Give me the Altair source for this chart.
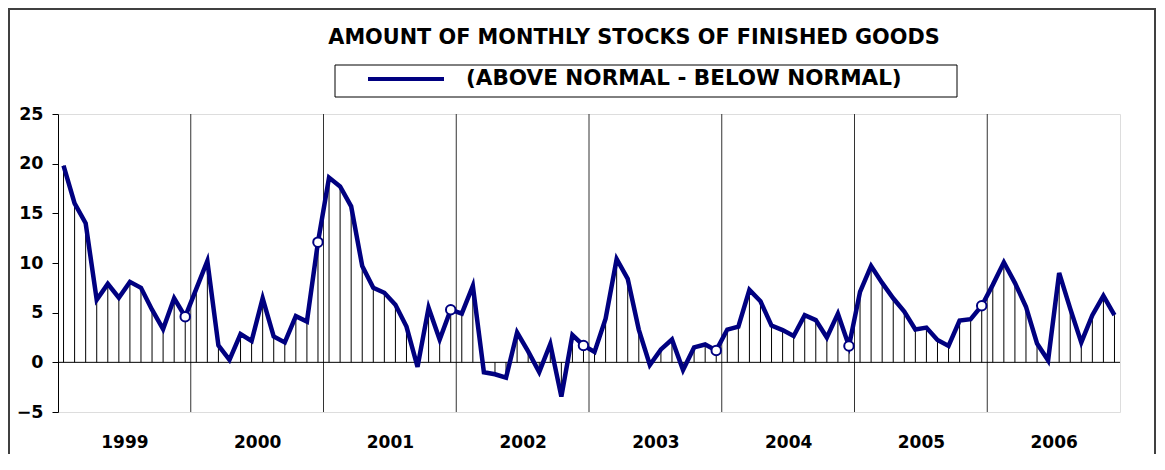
import altair as alt
import pandas as pd

years = ["1999", "2000", "2001", "2002", "2003", "2004", "2005", "2006"]
series_name = "(ABOVE NORMAL - BELOW NORMAL)"
title_text = "AMOUNT OF MONTHLY STOCKS OF FINISHED GOODS"

v1999 = [19.8, 16.0, 14.0, 6.3, 7.9, 6.5, 8.1, 7.5, 5.3, 3.35, 6.45, 4.6]
v2000 = [7.4, 10.2, 1.7, 0.25, 2.85, 2.15, 6.45, 2.6, 2.0, 4.65, 4.1, 12.1]
v2001 = [18.6, 17.7, 15.7, 9.7, 7.5, 7.0, 5.8, 3.6, -0.45, 5.5, 2.3, 5.3]
v2002 = [4.9, 7.7, -1.0, -1.2, -1.55, 3.0, 1.1, -0.98, 1.85, -3.45, 2.75, 1.7]
v2003 = [1.05, 4.4, 10.4, 8.4, 3.3, -0.27, 1.3, 2.3, -0.78, 1.5, 1.8, 1.2]
v2004 = [3.3, 3.6, 7.3, 6.15, 3.7, 3.25, 2.65, 4.75, 4.25, 2.5, 4.9, 1.65]
v2005 = [7.1, 9.7, 8.0, 6.45, 5.1, 3.3, 3.5, 2.25, 1.65, 4.2, 4.35, 5.7]
v2006 = [7.8, 10.07, 8.0, 5.6, 1.9, 0.2, 9.0, 5.4, 2.0, 4.75, 6.7, 4.75]

values = v1999 + v2000 + v2001 + v2002 + v2003 + v2004 + v2005 + v2006
y_ticks = [-5, 0, 5, 10, 15, 20, 25]

df = pd.DataFrame({
    "i": list(range(len(values))),
    "value": values,
    "series": [series_name] * len(values),
})
bounds = pd.DataFrame({"b": [12 * k - 0.5 for k in range(1, len(years))]})
label_pos = [12 * k + 5.5 for k in range(len(years))]

FONT = "DejaVu Sans"
NAVY = "#000080"

xs = alt.Scale(domain=[-0.5, len(values) - 0.5], nice=False, zero=False)
ys = alt.Scale(domain=[-5, 25], nice=False, zero=False)

x_axis = alt.Axis(values=label_pos, labelExpr="'' + (1999 + floor(datum.value / 12))",
                  ticks=False, domain=False, grid=False, title=None,
                  labelFont=FONT, labelFontSize=17, labelFontWeight="bold",
                  labelColor="black", labelPadding=22, labelFlush=False, zindex=1)
y_axis = alt.Axis(values=y_ticks, ticks=True, tickSize=6, tickColor="black",
                  domain=True, domainColor="black", grid=False, title=None,
                  labelFont=FONT, labelFontSize=17.5, labelFontWeight="bold",
                  labelColor="black", labelPadding=9, zindex=1)

base = alt.Chart(df)

# outer frame
frame = base.mark_rect(filled=False, stroke="#404040", strokeWidth=2).encode(
    x=alt.value(-49), x2=alt.value(1097), y=alt.value(-105), y2=alt.value(400)
).transform_filter("datum.i == 0")

legend_box = base.mark_rect(filled=False, stroke="black", strokeWidth=1).encode(
    x=alt.value(277), x2=alt.value(899), y=alt.value(-49), y2=alt.value(-17)
).transform_filter("datum.i == 0")

title = base.mark_text(text=title_text, font=FONT, fontSize=20.8, fontWeight="bold",
                       align="center", baseline="alphabetic", color="black").encode(
    x=alt.value(576), y=alt.value(-70)
).transform_filter("datum.i == 0")

year_lines = alt.Chart(bounds).mark_rule(color="#333333", strokeWidth=1).encode(
    x=alt.X("b:Q", scale=xs, axis=x_axis)
)

zero_line = base.mark_rule(color="black", strokeWidth=1).encode(
    y=alt.datum(0, scale=ys)
).transform_filter("datum.i == 0")

drops = base.mark_rule(color="black", strokeWidth=1).encode(
    x=alt.X("i:Q", scale=xs, axis=x_axis),
    y=alt.Y("value:Q", scale=ys, axis=y_axis),
    y2=alt.datum(0),
)

line = base.mark_line(strokeWidth=4.5).encode(
    x=alt.X("i:Q", scale=xs, axis=x_axis),
    y=alt.Y("value:Q", scale=ys, axis=y_axis),
    color=alt.Color("series:N", scale=alt.Scale(domain=[series_name], range=[NAVY]),
                    legend=alt.Legend(orient="none", legendX=308, legendY=-75, title=None,
                                      symbolType="stroke", symbolSize=5776,
                                      symbolStrokeWidth=4, labelFont=FONT,
                                      labelFontSize=21.5, labelFontWeight="bold",
                                      labelColor="black", labelOffset=20,
                                      labelLimit=0, padding=0)),
)

markers = base.mark_point(filled=True, fill="white", stroke=NAVY, strokeWidth=2,
                          size=90, opacity=1, shape="circle").encode(
    x=alt.X("i:Q", scale=xs, axis=x_axis),
    y=alt.Y("value:Q", scale=ys, axis=y_axis),
).transform_filter("datum.i % 12 == 11 && datum.i < 95")

chart = alt.layer(frame, legend_box, title, year_lines, zero_line, drops, line, markers).properties(
    width=1062, height=298,
    autosize=alt.AutoSizeParams(type="none"),
    padding={"left": 50, "top": 106, "right": 37, "bottom": 42},
).configure_view(stroke="#222222", strokeWidth=1).configure(background="white")

chart.save("out.html", embed_options={"renderer": "svg", "actions": False})
